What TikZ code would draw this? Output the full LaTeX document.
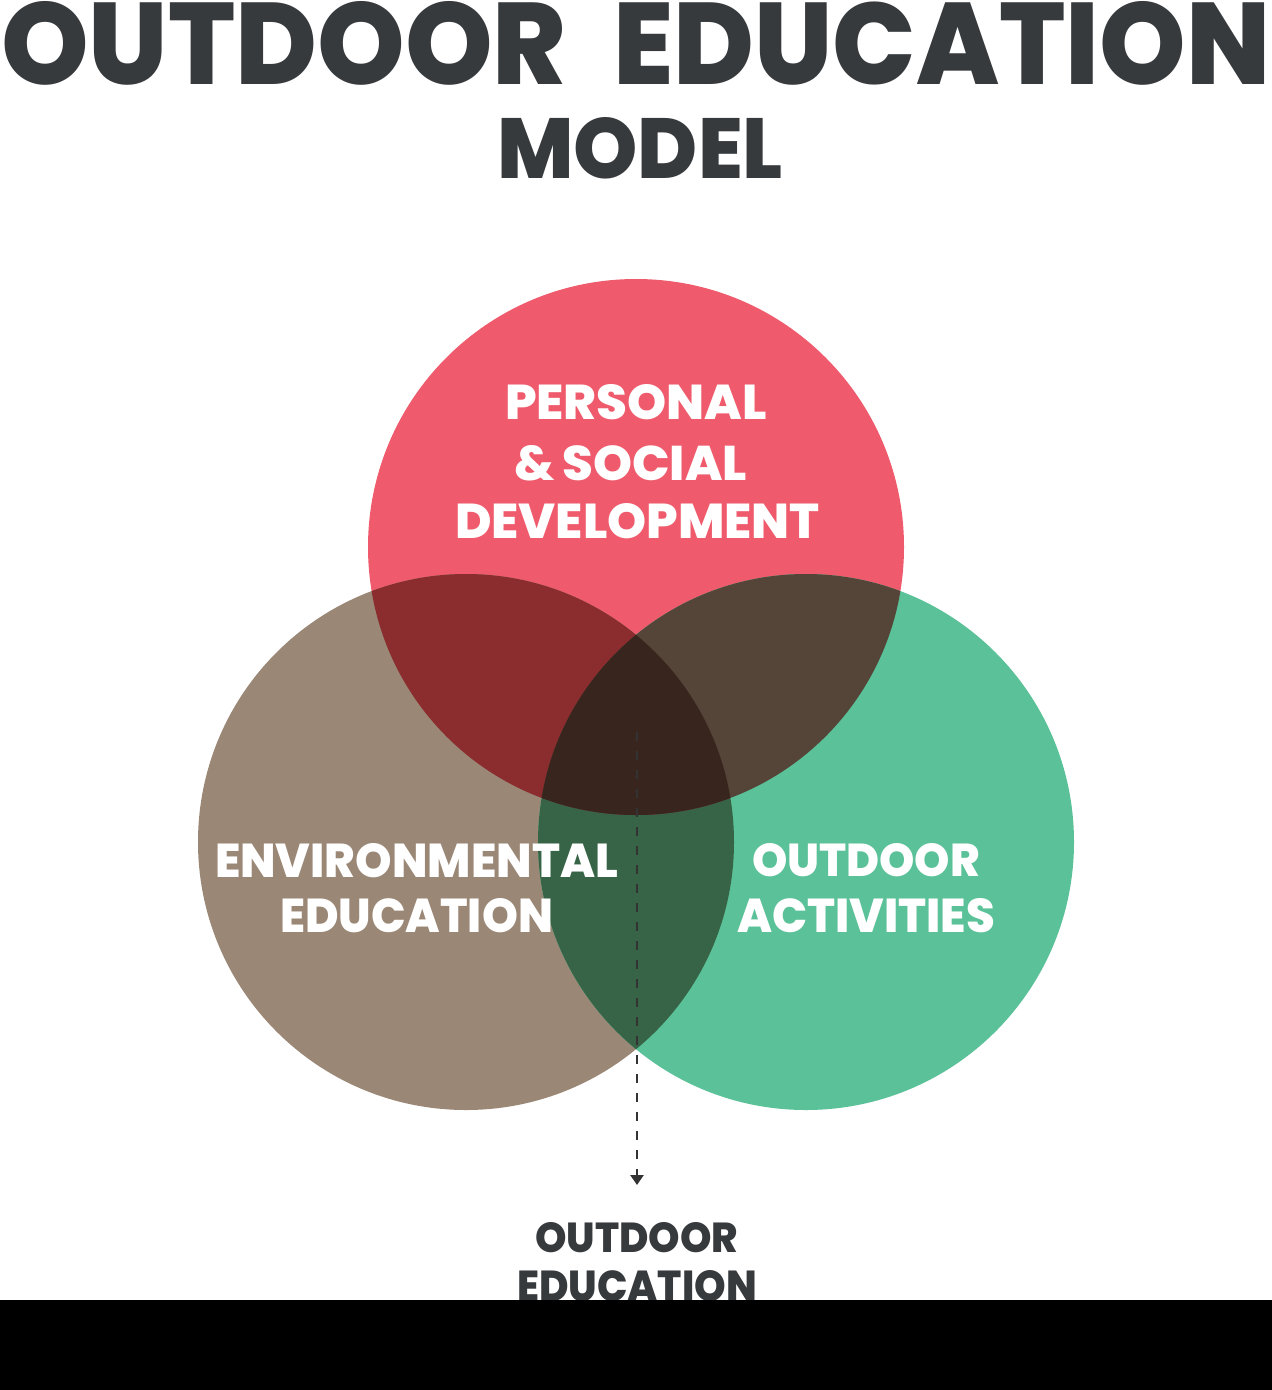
\documentclass[tikz,border=0pt]{standalone}
\usepackage{fontspec}
\usepackage{graphicx}
\newfontfamily\pop{Poppins}[UprightFont=* ExtraBold]
\usetikzlibrary{arrows.meta}
\definecolor{cRed}{HTML}{EF5B6C}
\definecolor{cBrown}{HTML}{9A8775}
\definecolor{cGreen}{HTML}{5BC199}
\definecolor{cRB}{HTML}{8B2D2F}
\definecolor{cRG}{HTML}{554539}
\definecolor{cBG}{HTML}{376446}
\definecolor{cRBG}{HTML}{38251D}
\definecolor{cText}{HTML}{363A3D}
\definecolor{cArrow}{HTML}{333333}
\tikzset{
  lbl/.style={anchor=north west, inner sep=0pt, outer sep=0pt, text=white, font=\pop},
  dark/.style={lbl, text=cText},
  conn/.style={draw=cArrow, line width=2.5pt, dash pattern=on 9pt off 10pt,
    -{Triangle[width=13pt,length=10pt]}}
}
\begin{document}
\begin{tikzpicture}[x=1pt,y=-1pt]
\useasboundingbox (0,0) rectangle (1272,1390);
\fill[white] (0,0) rectangle (1272,1390);
% circles
\def\R{(636,547) circle[radius=268pt]}
\def\B{(466,842) circle[radius=268pt]}
\def\G{(806,842) circle[radius=268pt]}
\fill[cRed] \R;
\fill[cBrown] \B;
\fill[cGreen] \G;
\begin{scope}\clip \B; \fill[cBG] \G; \end{scope}
\begin{scope}\clip \R; \fill[cRB] \B; \fill[cRG] \G; \end{scope}
\begin{scope}\clip \R; \clip \B; \fill[cRBG] \G; \end{scope}
% title
\node[dark] (t1a) at (1,1) {\resizebox{565pt}{83pt}{OUTDOOR}};
\node[dark] (t1b) at (613,1) {\resizebox{657pt}{83pt}{EDUCATION}};
\node[dark] (t2) at (497,117) {\resizebox{286pt}{61pt}{MODEL}};
% circle labels
\node[lbl] (p1) at (505,384) {\resizebox{262pt}{35pt}{PERSONAL}};
\node[lbl] (p2) at (514,445) {\resizebox{233pt}{35pt}{\&\,SOCIAL}};
\node[lbl] (p3) at (455,503) {\resizebox{365pt}{35pt}{DEVELOPMENT}};
\node[lbl] (e1) at (215,843) {\resizebox{403pt}{34pt}{ENVIRONMENTAL}};
\node[lbl] (e2) at (280,898) {\resizebox{273pt}{34pt}{EDUCATION}};
\node[lbl] (a1) at (752,843) {\resizebox{228pt}{33pt}{OUTDOOR}};
\node[lbl] (a2) at (737,898) {\resizebox{258pt}{34pt}{ACTIVITIES}};
% result label
\node[dark] (o1) at (535,1222) {\resizebox{203pt}{30pt}{OUTDOOR}};
\node[dark] (o2) at (517,1270) {\resizebox{240pt}{31pt}{EDUCATION}};
% connector
\coordinate (cstart) at (637,732);
\coordinate (cend) at (637,1185);
\draw[conn] (cstart) -- (cend);
% bottom bar
\fill[black] (0,1300) rectangle (1272,1390);
\end{tikzpicture}
\end{document}
